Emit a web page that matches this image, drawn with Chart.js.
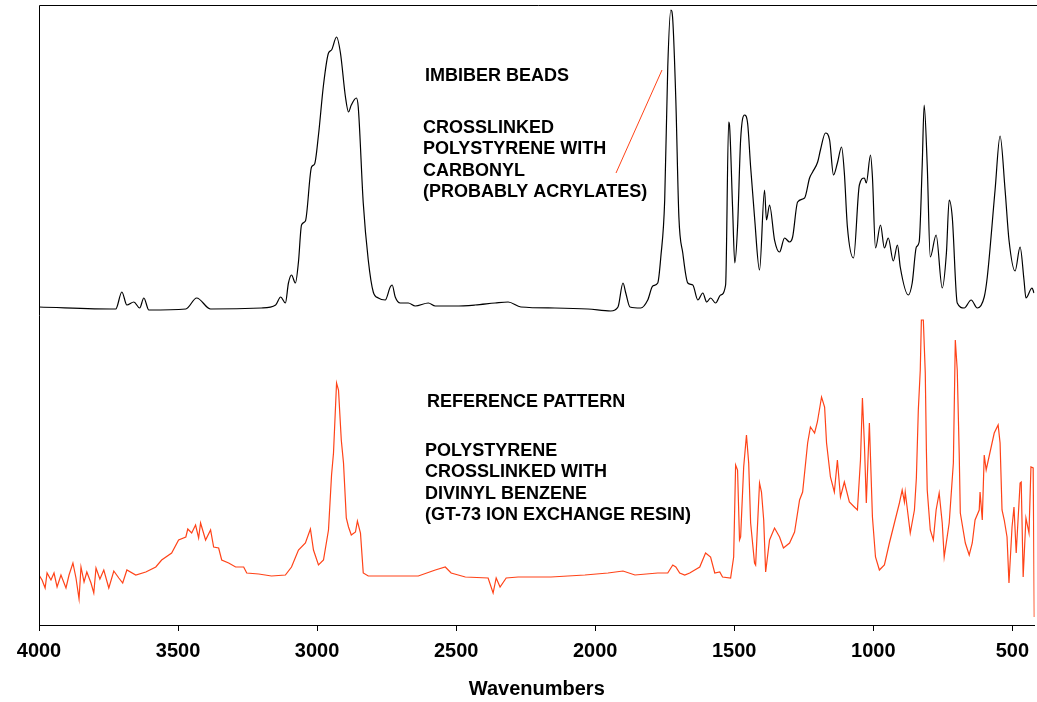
<!DOCTYPE html>
<html>
<head>
<meta charset="utf-8">
<title>IR spectra</title>
<script src="https://cdn.jsdelivr.net/npm/chart.js@4/dist/chart.umd.min.js"></script>
<style>
  html, body { margin: 0; padding: 0; background: #fff; }
  #wrap { width: 1037px; height: 702px; }
</style>
</head>
<body>
<div id="wrap"><canvas id="chart" width="1037" height="702"></canvas></div>
<script>
// x ticks (wavenumbers, axis runs high -> low)
const xTicks = [4000, 3500, 3000, 2500, 2000, 1500, 1000, 500];

// imbiber beads spectrum (offset, arbitrary units)
const beadsWn = [4000, 3724, 3702, 3684, 3659, 3638, 3623, 3605, 3472, 3433, 3383, 3200, 3149, 3131, 3114, 3103, 3092, 3078, 3067,
  3056, 3042, 3020, 3009, 2995, 2977, 2959, 2948, 2930, 2916, 2898, 2887, 2877, 2859, 2852, 2834, 2816, 2798, 2780, 2755,
  2737, 2730, 2719, 2701, 2672, 2647, 2600, 2575, 2503, 2432, 2360, 2313, 2267, 2145, 2026, 1944, 1918, 1900, 1890, 1875,
  1836, 1811, 1793, 1775, 1764, 1750, 1739, 1728, 1721, 1710, 1699, 1685, 1667, 1649, 1631, 1613, 1599, 1585, 1567, 1549,
  1531, 1520, 1517, 1506, 1498, 1488, 1477, 1463, 1452, 1441, 1427, 1409, 1391, 1384, 1373, 1355, 1337, 1319, 1301, 1290,
  1272, 1247, 1229, 1218, 1200, 1190, 1172, 1157, 1143, 1129, 1114, 1104, 1093, 1071, 1050, 1032, 1025, 1010, 1003, 992,
  974, 960, 946, 928, 913, 903, 874, 860, 845, 835, 824, 817, 806, 795, 774, 752, 737, 727, 716, 698, 673, 648, 626, 601,
  590, 562, 544, 526, 512, 490, 472, 458, 451, 429, 422];
const beadsAbs = [318, 316, 333, 320, 323, 317, 327, 315, 316, 327, 316, 317, 320, 328, 322, 342, 350, 342, 363,
  400, 404, 458, 461, 490, 540, 572, 575, 588, 572, 528, 513, 520, 527, 518, 422, 365, 333, 327, 325,
  338, 340, 328, 322, 322, 319, 322, 319, 319, 320, 322, 323, 318, 317, 316, 314, 318, 342, 332, 318,
  317, 325, 339, 342, 368, 425, 558, 615, 605, 525, 408, 372, 342, 340, 325, 332, 323, 327, 322, 330,
  340, 503, 500, 418, 362, 398, 485, 510, 502, 458, 408, 355, 435, 405, 420, 385, 373, 387, 383, 388,
  423, 427, 447, 453, 463, 475, 492, 485, 450, 462, 478, 452, 398, 367, 440, 447, 442, 470, 448, 377,
  400, 377, 387, 364, 380, 358, 330, 342, 378, 383, 460, 520, 460, 368, 390, 337, 372, 425, 408, 322, 317, 325, 317, 328,
  348, 435, 489, 435, 385, 354, 378, 345, 327, 337, 332];

// reference pattern spectrum (offset, arbitrary units)
const refWn = [4000, 3989, 3978, 3971, 3957, 3946, 3935, 3921, 3903, 3892, 3878, 3867, 3856, 3849, 3838, 3828, 3813, 3803, 3795,
  3781, 3767, 3749, 3731, 3713, 3699, 3684, 3652, 3616, 3580, 3559, 3523, 3498, 3472, 3465, 3451, 3437, 3426, 3419, 3401,
  3383, 3372, 3354, 3343, 3318, 3293, 3264, 3253, 3210, 3164, 3114, 3092, 3067, 3042, 3024, 3013, 2995, 2977, 2959, 2948,
  2941, 2930, 2923, 2913, 2905, 2895, 2887, 2877, 2862, 2855, 2844, 2834, 2816, 2636, 2575, 2539, 2518, 2467, 2385, 2367,
  2356, 2342, 2320, 2277, 2159, 2037, 1954, 1900, 1857, 1775, 1739, 1721, 1710, 1696, 1678, 1660, 1642, 1624, 1603, 1585,
  1570, 1552, 1542, 1513, 1502, 1495, 1488, 1481, 1477, 1466, 1456, 1448, 1441, 1427, 1423, 1409, 1402, 1394, 1387, 1373,
  1355, 1337, 1323, 1301, 1283, 1265, 1254, 1236, 1226, 1211, 1201, 1186, 1175, 1168, 1154, 1140, 1129, 1118, 1104, 1086,
  1068, 1057, 1046, 1039, 1032, 1025, 1014, 1003, 992, 978, 960, 942, 924, 906, 896, 888, 885, 867, 852, 845, 838, 831,
  827, 820, 813, 809, 806, 795, 784, 774, 763, 752, 745, 727, 712, 705, 698, 691, 687, 669, 655, 644, 634, 619, 616, 608,
  601, 594, 580, 565, 551, 544, 537, 529, 519, 512, 501, 494, 486, 472, 468, 461, 451, 440, 433, 425, 421];
const refAbs = [50, 45, 37, 52, 45, 52, 38, 50, 37, 50, 62, 47, 26, 58, 43, 53, 42, 32, 57,
  46, 55, 37, 54, 47, 42, 55, 50, 53, 58, 65, 72, 85, 88, 96, 92, 100, 87, 102, 85,
  95, 78, 77, 65, 62, 58, 58, 52, 51, 49, 50, 58, 75, 82, 96, 75, 60, 65, 95, 150,
  172, 242, 235, 185, 162, 107, 98, 90, 93, 104, 92, 52, 49, 49, 55, 58, 52, 48, 47, 32,
  47, 38, 47, 48, 48, 50, 52, 54, 50, 52, 52, 60, 58, 52, 50, 52, 55, 58, 72, 68,
  52, 53, 48, 47, 68, 160, 155, 85, 88, 158, 190, 162, 102, 62, 60, 142, 133, 105, 53, 85,
  97, 88, 77, 82, 93, 125, 133, 182, 198, 192, 203, 228, 218, 182, 148, 133, 165, 128, 143, 123,
  118, 115, 165, 227, 182, 122, 202, 108, 68, 55, 60, 82, 102, 122, 135, 123, 133, 92, 115, 147, 215, 255,
  305, 305, 252, 175, 135, 95, 85, 115, 132, 102, 68, 102, 162, 285, 255, 172, 112, 82, 70, 82, 105, 115, 133, 105,
  170, 155, 173, 192, 200, 182, 115, 105, 88, 42, 98, 118, 72, 142, 143, 48, 107, 92, 158, 157, 8];

const black = "#000000"
const orange = "#ff4318"
const fontFam = "'Liberation Sans', Arial, sans-serif"

const toPoints = (xs, ys) => xs.map((x, i) => ({ x: x, y: ys[i] }))

// notes written on the plot + the little pointer line
const notes = {
  id: "notes",
  afterDatasetsDraw(chart) {
    const ctx = chart.ctx
    const a = chart.chartArea
    ctx.save()
    // left and top frame
    ctx.strokeStyle = "#000"
    ctx.lineWidth = 1
    ctx.beginPath()
    ctx.moveTo(a.left + 0.5, a.bottom)
    ctx.lineTo(a.left + 0.5, a.top + 0.5)
    ctx.lineTo(chart.width, a.top + 0.5)
    ctx.stroke()

    ctx.fillStyle = "#000"
    ctx.font = "bold 18px " + fontFam
    ctx.textBaseline = "middle"
    ctx.textAlign = "left"
    ctx.fillText("IMBIBER BEADS", 425, 76)
    const top = ["CROSSLINKED", "POLYSTYRENE WITH", "CARBONYL", "(PROBABLY ACRYLATES)"]
    top.forEach((t, i) => ctx.fillText(t, 423, 128 + i * 21.4))

    ctx.fillText("REFERENCE PATTERN", 427, 402)
    const bottom = ["POLYSTYRENE", "CROSSLINKED WITH", "DIVINYL BENZENE", "(GT-73 ION EXCHANGE RESIN)"]
    bottom.forEach((t, i) => ctx.fillText(t, 425, 451 + i * 21.5))

    ctx.strokeStyle = orange
    ctx.lineWidth = 1
    ctx.beginPath()
    ctx.moveTo(616, 173)
    ctx.lineTo(662, 70)
    ctx.stroke()
    ctx.restore()
  }
}

new Chart(document.getElementById("chart"), {
  type: "line",
  data: {
    datasets: [
      {
        label: "IMBIBER BEADS",
        data: toPoints(beadsWn, beadsAbs),
        borderColor: black,
        borderWidth: 1.2,
        pointRadius: 0,
        cubicInterpolationMode: "monotone",
      },
      {
        label: "REFERENCE PATTERN",
        data: toPoints(refWn, refAbs),
        borderColor: orange,
        borderWidth: 1.2,
        pointRadius: 0,
        tension: 0,
      },
    ],
  },
  options: {
    responsive: false,
    animation: false,
    layout: { padding: { left: 39, top: 5, right: -7, bottom: 1 } },
    plugins: { legend: { display: false }, tooltip: { enabled: false } },
    scales: {
      x: {
        type: "linear",
        reverse: true,
        min: 420,
        max: 4000,
        afterBuildTicks: (scale) => { scale.ticks = xTicks.map(v => ({ value: v })) },
        grid: { display: true, drawOnChartArea: false, drawTicks: true, tickLength: 6, tickColor: "#000" },
        border: { display: true, color: "#000", width: 1 },
        ticks: {
          color: "#000",
          padding: 8,
          maxRotation: 0,
          autoSkip: false,
          callback: (v) => String(v),
          font: { family: fontFam, size: 20, weight: "bold" },
        },
        title: {
          display: true,
          text: "Wavenumbers",
          color: "#000",
          padding: { top: 6, bottom: 0 },
          font: { family: fontFam, size: 20, weight: "bold" },
        },
      },
      y: { display: false, min: 0, max: 620 },
    },
  },
  plugins: [notes],
});
</script>
</body>
</html>
